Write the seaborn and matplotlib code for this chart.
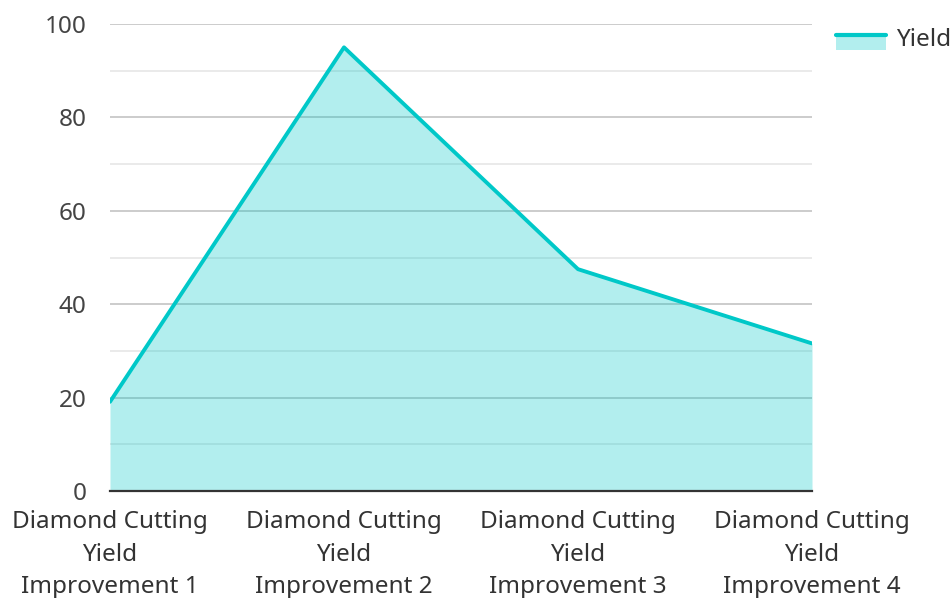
import matplotlib
matplotlib.use("Agg")
import matplotlib.pyplot as plt
import seaborn as sns
import pandas as pd
from matplotlib.patches import Rectangle
from matplotlib.lines import Line2D
from matplotlib.legend_handler import HandlerBase
from matplotlib.ticker import MultipleLocator

categories = ["Diamond Cutting\nYield\nImprovement 1",
              "Diamond Cutting\nYield\nImprovement 2",
              "Diamond Cutting\nYield\nImprovement 3",
              "Diamond Cutting\nYield\nImprovement 4"]
yield_values = [19.1, 95.0, 47.5, 31.6]
series_name = "Yield"

sns.set_style("white")
plt.rcParams['font.family'] = ['Noto Sans', 'DejaVu Sans']

line_color = "#00c8c8"
FS = 17.5

df = pd.DataFrame({"pos": range(len(categories)), "value": yield_values})

fig = plt.figure(figsize=(9.53, 5.98), dpi=100)
ax = fig.add_axes([110/953, 1 - 491/598, (812-110)/953, (491-24)/598])

ax.fill_between(df["pos"], 0, df["value"], color=line_color, alpha=0.3, linewidth=0, zorder=2)
sns.lineplot(data=df, x="pos", y="value", ax=ax, color=line_color, linewidth=2.8, zorder=3)

ax.set_xlim(0, len(categories) - 1)
ax.set_ylim(0, 100)
ax.yaxis.set_major_locator(MultipleLocator(20))
ax.yaxis.set_minor_locator(MultipleLocator(10))
ax.grid(which="major", axis="y", color="#c8c8c8", linewidth=1.3, zorder=1)
ax.grid(which="minor", axis="y", color="#e8e8e8", linewidth=1.3, zorder=1)
ax.set_axisbelow(True)
ax.set_xticks(list(df["pos"]))
ax.set_xticklabels(categories, fontsize=FS, color="#333333", linespacing=1.47)
ax.tick_params(axis="y", labelsize=FS, labelcolor="#444444", length=0, pad=17)
ax.tick_params(axis="x", length=0, pad=14)
ax.set_xlabel("")
ax.set_ylabel("")
for s in ["top", "right", "left"]:
    ax.spines[s].set_visible(False)
ax.spines["bottom"].set_color("#333333")
ax.spines["bottom"].set_linewidth(1.6)
ax.spines["bottom"].set_zorder(4)


class AreaHandler(HandlerBase):
    def create_artists(self, legend, orig_handle, xdescent, ydescent,
                       width, height, fontsize, trans):
        shift = -3.0
        rect = Rectangle((-xdescent, -ydescent + shift), width, height,
                         facecolor=line_color, alpha=0.3, edgecolor="none",
                         transform=trans)
        ln = Line2D([-xdescent, -xdescent + width],
                    [-ydescent + height + shift - 1, -ydescent + height + shift - 1],
                    color=line_color, linewidth=3, transform=trans)
        return [rect, ln]


proxy = Rectangle((0, 0), 1, 1)
leg = fig.legend([proxy], [series_name], loc="upper left",
                 bbox_to_anchor=(836/953, 1 - 28/598), frameon=False,
                 fontsize=FS, handlelength=2.05, handleheight=0.66,
                 handletextpad=0.4, borderaxespad=0, borderpad=0,
                 handler_map={Rectangle: AreaHandler()})
for t in leg.get_texts():
    t.set_color("#333333")

fig.savefig("out.png", dpi=100)
